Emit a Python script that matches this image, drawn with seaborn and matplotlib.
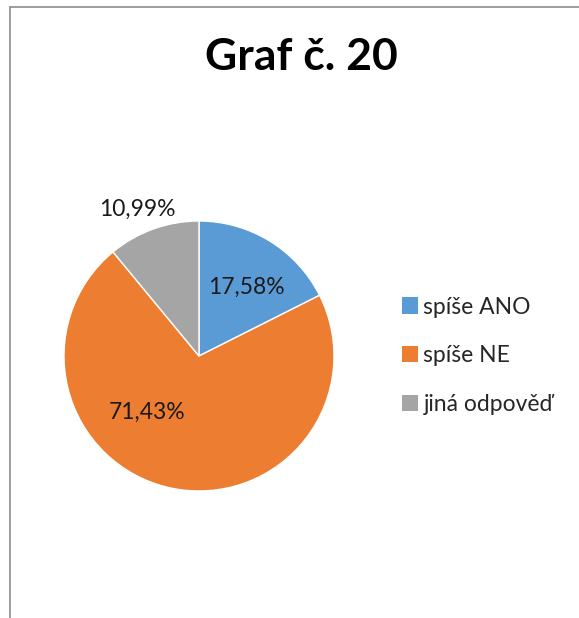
import matplotlib
matplotlib.use("Agg")
import matplotlib.pyplot as plt
import seaborn as sns
import numpy as np
from matplotlib.patches import Patch
from matplotlib.lines import Line2D

categories = ["spíše ANO", "spíše NE", "jiná odpověď"]
values = [17.58, 71.43, 10.99]
labels = ["17,58%", "71,43%", "10,99%"]
title = "Graf č. 20"
colors = ["#5B9BD5", "#ED7D31", "#A5A5A5"]

sns.set_theme(style="white")
plt.rcParams['font.family'] = ['Lato', 'DejaVu Sans']

W, H = 579, 618
fig = plt.figure(figsize=(W / 100, H / 100), dpi=100)
fig.patch.set_facecolor("white")

# chart border (left and top)
fig.add_artist(Line2D([10 / W, 10 / W], [0, 1 - 7 / H], color="#8c8c8c", lw=1.2))
fig.add_artist(Line2D([10 / W, 1], [1 - 7 / H, 1 - 7 / H], color="#8c8c8c", lw=1.2))

cx, cy, r = 199, 356, 135
ax = fig.add_axes([(cx - r) / W, (H - cy - r) / H, 2 * r / W, 2 * r / H])
wedges, texts = ax.pie(values, colors=colors, startangle=90, counterclock=False,
                       radius=1, wedgeprops=dict(edgecolor="white", linewidth=1))
ax.set_xlim(-1, 1)
ax.set_ylim(-1, 1)
ax.set_aspect("auto")
ax.axis("off")

# data labels, positioned like the original
label_pos = [(0.35, 0.51), (-0.385, -0.42), (-0.46, 1.09)]
for lab, (x, y) in zip(labels, label_pos):
    ax.text(x, y, lab, ha="center", va="center", fontsize=16.5, color="#1a1a1a")

fig.text(301 / W, 1 - 57 / H, title, ha="center", va="center",
         fontsize=32, fontweight="bold", color="black")

handles = [Patch(facecolor=c, edgecolor="none") for c in colors]
leg = fig.legend(handles, categories, loc="center left",
                 bbox_to_anchor=(381 / W, 1 - 356 / H), frameon=False,
                 fontsize=16.5, handlelength=0.7, handleheight=0.7,
                 handletextpad=0.25, labelspacing=1.22)

fig.savefig("out.png", dpi=100, facecolor="white")
